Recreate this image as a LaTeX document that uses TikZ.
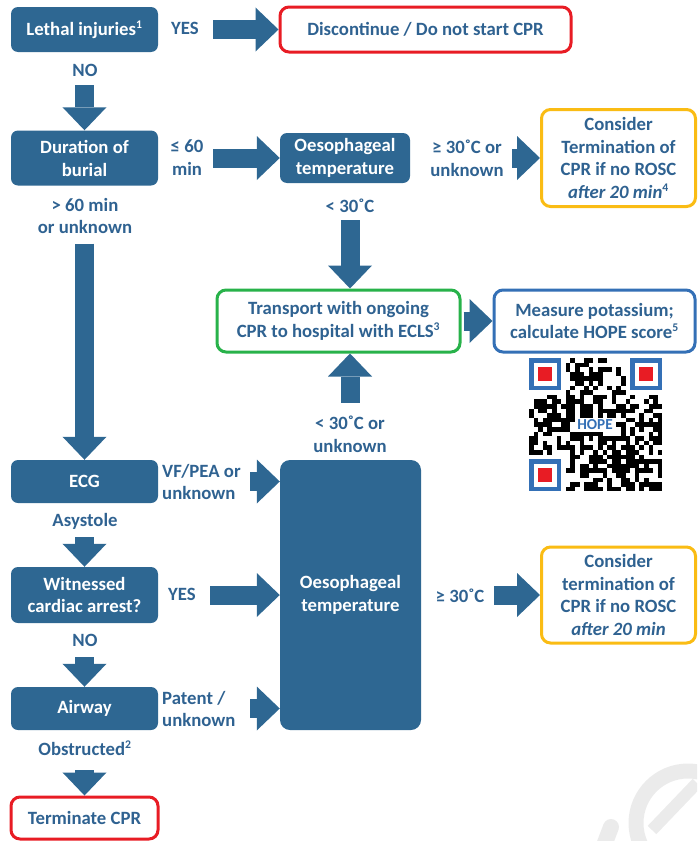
\documentclass[tikz,border=0pt]{standalone}
\usepackage{fontspec}
\setmainfont{Carlito}
\usetikzlibrary{arrows.meta}
\definecolor{ercblue}{RGB}{46,103,146}
\definecolor{erctext}{RGB}{47,98,145}
\definecolor{ercred}{RGB}{232,28,36}
\definecolor{ercyellow}{RGB}{250,188,20}
\definecolor{ercgreen}{RGB}{40,178,74}
\definecolor{ercline}{RGB}{52,112,182}
\newcommand{\fnote}[1]{\textsuperscript{\fontsize{10}{10}\selectfont #1}}

\begin{document}
\begin{tikzpicture}[x=0.03cm, y=-0.03cm, line join=round,
    font=\bfseries\fontsize{16}{19.6}\selectfont]
  \def\px{0.03cm}  % one pixel of the reference
  \def\qm{4.6}     % QR module size

  \tikzset{
    fillbox/.style={fill=ercblue, text=white, rounded corners=7*\px,
      align=center, inner sep=0pt},
    leftbox/.style={fillbox, minimum width=147*\px},
    linebox/.style={draw=#1, fill=white, line width=3*\px, rounded corners=9*\px,
      text=erctext, align=center, inner sep=0pt},
    lbl/.style={text=erctext, align=center, inner sep=0pt},
    barrow/.style={draw=ercblue, line width=19*\px,
      -{Triangle[length=0.69cm, width=1.32cm, line width=0pt]}}
  }

  \useasboundingbox (0,0) rectangle (697,841);
  \clip (0,0) rectangle (697,841);

  % Watermark
  \draw[black!8, line width=15*\px] (688,823) circle[radius=52];
  \draw[black!8, line width=12*\px] (652,830) -- (697,783);
  \draw[black!8, line width=16*\px, line cap=round] (603,848) -- (611,827);

  % Left column
  \node[leftbox, minimum height=45*\px] (lethal) at (84.5,29.5) {Lethal injuries\fnote{1}};
  \node[leftbox, minimum height=55*\px] (dur) at (84.5,158) {Duration of\\burial};
  \node[leftbox, minimum height=43*\px] (ecg) at (84.5,481.5) {ECG};
  \node[leftbox, minimum height=56*\px] (wit) at (84.5,595) {Witnessed\\cardiac arrest?};
  \node[leftbox, minimum height=43*\px] (airway) at (84.5,708.5) {Airway};
  \node[linebox=ercred, minimum width=147*\px, minimum height=42*\px] (term) at (84.5,818) {Terminate CPR};

  % Middle and right
  \node[linebox=ercred, minimum width=291*\px, minimum height=45*\px] (disc) at (425.5,29.5) {Discontinue / Do not start CPR};
  \node[fillbox, minimum width=130*\px, minimum height=50*\px] (oes1) at (345,158) {Oesophageal\\temperature};
  \node[linebox=ercyellow, minimum width=154*\px, minimum height=97*\px] (cons1) at (618.5,158) {Consider\\Termination of\\CPR if no ROSC\\\textit{after 20 min}\fnote{4}};
  \node[linebox=ercgreen, minimum width=243*\px, minimum height=62*\px] (trans) at (338.5,321) {Transport with ongoing\\CPR to hospital with ECLS\fnote{3}};
  \node[linebox=ercline, minimum width=201*\px, minimum height=62*\px] (meas) at (594.5,321) {Measure potassium;\\calculate HOPE score\fnote{5}};
  \node[fillbox, rounded corners=10*\px, minimum width=141*\px, minimum height=270*\px] (oes2) at (350.5,595) {Oesophageal\\temperature};
  \node[linebox=ercyellow, minimum width=154*\px, minimum height=96*\px] (cons2) at (618.5,595) {Consider\\termination of\\CPR if no ROSC\\\textit{after 20 min}};

  % Labels
  \node[lbl] (yes1) at (185,28) {YES};
  \node[lbl] (no1) at (85,70) {NO};
  \node[lbl] (le60) at (187,158) {≤ 60\\min};
  \node[lbl] (ge30a) at (467,158) {≥ 30˚C or\\unknown};
  \node[lbl] (lt30a) at (350,206) {< 30˚C};
  \node[lbl] (gt60) at (85,216) {> 60 min\\or unknown};
  \node[lbl] (lt30b) at (350,434) {< 30˚C or\\unknown};
  \node[lbl, anchor=west, align=left] (vf) at (162,482) {VF/PEA or\\unknown};
  \node[lbl] (asys) at (85,521) {Asystole};
  \node[lbl] (yes2) at (182,594) {YES};
  \node[lbl] (no2) at (85,640) {NO};
  \node[lbl, anchor=west, align=left] (patent) at (162,709) {Patent /\\unknown};
  \node[lbl] (obst) at (85,748) {Obstructed\fnote{2}};
  \node[lbl] (ge30b) at (460,596) {≥ 30˚C};

  % Block arrows
  \draw[barrow, shorten <=55*\px] (lethal) -- (disc);
  \draw[barrow, shorten <=33*\px] (lethal) -- (dur);
  \draw[barrow, shorten <=55*\px] (dur) -- (oes1);
  \draw[barrow, shorten <=102*\px] (oes1) -- (cons1);
  \draw[barrow, shorten <=37*\px] (oes1.south -| lt30a) -- (trans.north -| lt30a);
  \draw[barrow, shorten <=2*\px] (trans) -- (meas);
  \draw[barrow, shorten <=57*\px] (oes2.north -| lt30b) -- (trans.south -| lt30b);
  \draw[barrow, shorten <=58*\px] (dur) -- (ecg);
  \draw[barrow, shorten <=92*\px] (ecg.east) -- (ecg.east -| oes2.west);
  \draw[barrow, shorten <=34*\px] (ecg) -- (wit);
  \draw[barrow, shorten <=52*\px] (wit.east) -- (wit.east -| oes2.west);
  \draw[barrow, shorten <=34*\px] (wit) -- (airway);
  \draw[barrow, shorten <=92*\px] (airway.east) -- (airway.east -| oes2.west);
  \draw[barrow, shorten <=40*\px] (airway) -- (term);
  \draw[barrow, shorten <=73*\px] (oes2) -- (cons2);

  % HOPE QR code
  \begin{scope}[shift={(529,358)}]
    \pgfmathsetseed{42}
    \foreach \i in {0,...,28}
      \foreach \j in {0,...,28}{
        \pgfmathtruncatemacro\isfind{(\i<8 && \j<8) || (\i>20 && \j<8) || (\i<8 && \j>20) || (\i>9 && \i<19 && \j>12 && \j<16)}
        \pgfmathtruncatemacro\isdark{rnd<0.55}
        \ifnum\isfind=0 \ifnum\isdark=1
          \fill (\i*\qm,\j*\qm) rectangle ++(\qm,\qm);
        \fi\fi
      }
    \foreach \fx/\fy in {0/0, 22/0, 0/22}{
      \fill[ercline] (\fx*\qm,\fy*\qm) rectangle ++(7*\qm,7*\qm);
      \fill[white] (\fx*\qm+\qm,\fy*\qm+\qm) rectangle ++(5*\qm,5*\qm);
      \fill[ercred] (\fx*\qm+2*\qm,\fy*\qm+2*\qm) rectangle ++(3*\qm,3*\qm);
    }
    \node[text=ercline, inner sep=0pt, font=\bfseries\fontsize{13}{13}\selectfont] (hope) at (66,67) {HOPE};
  \end{scope}
\end{tikzpicture}
\end{document}
